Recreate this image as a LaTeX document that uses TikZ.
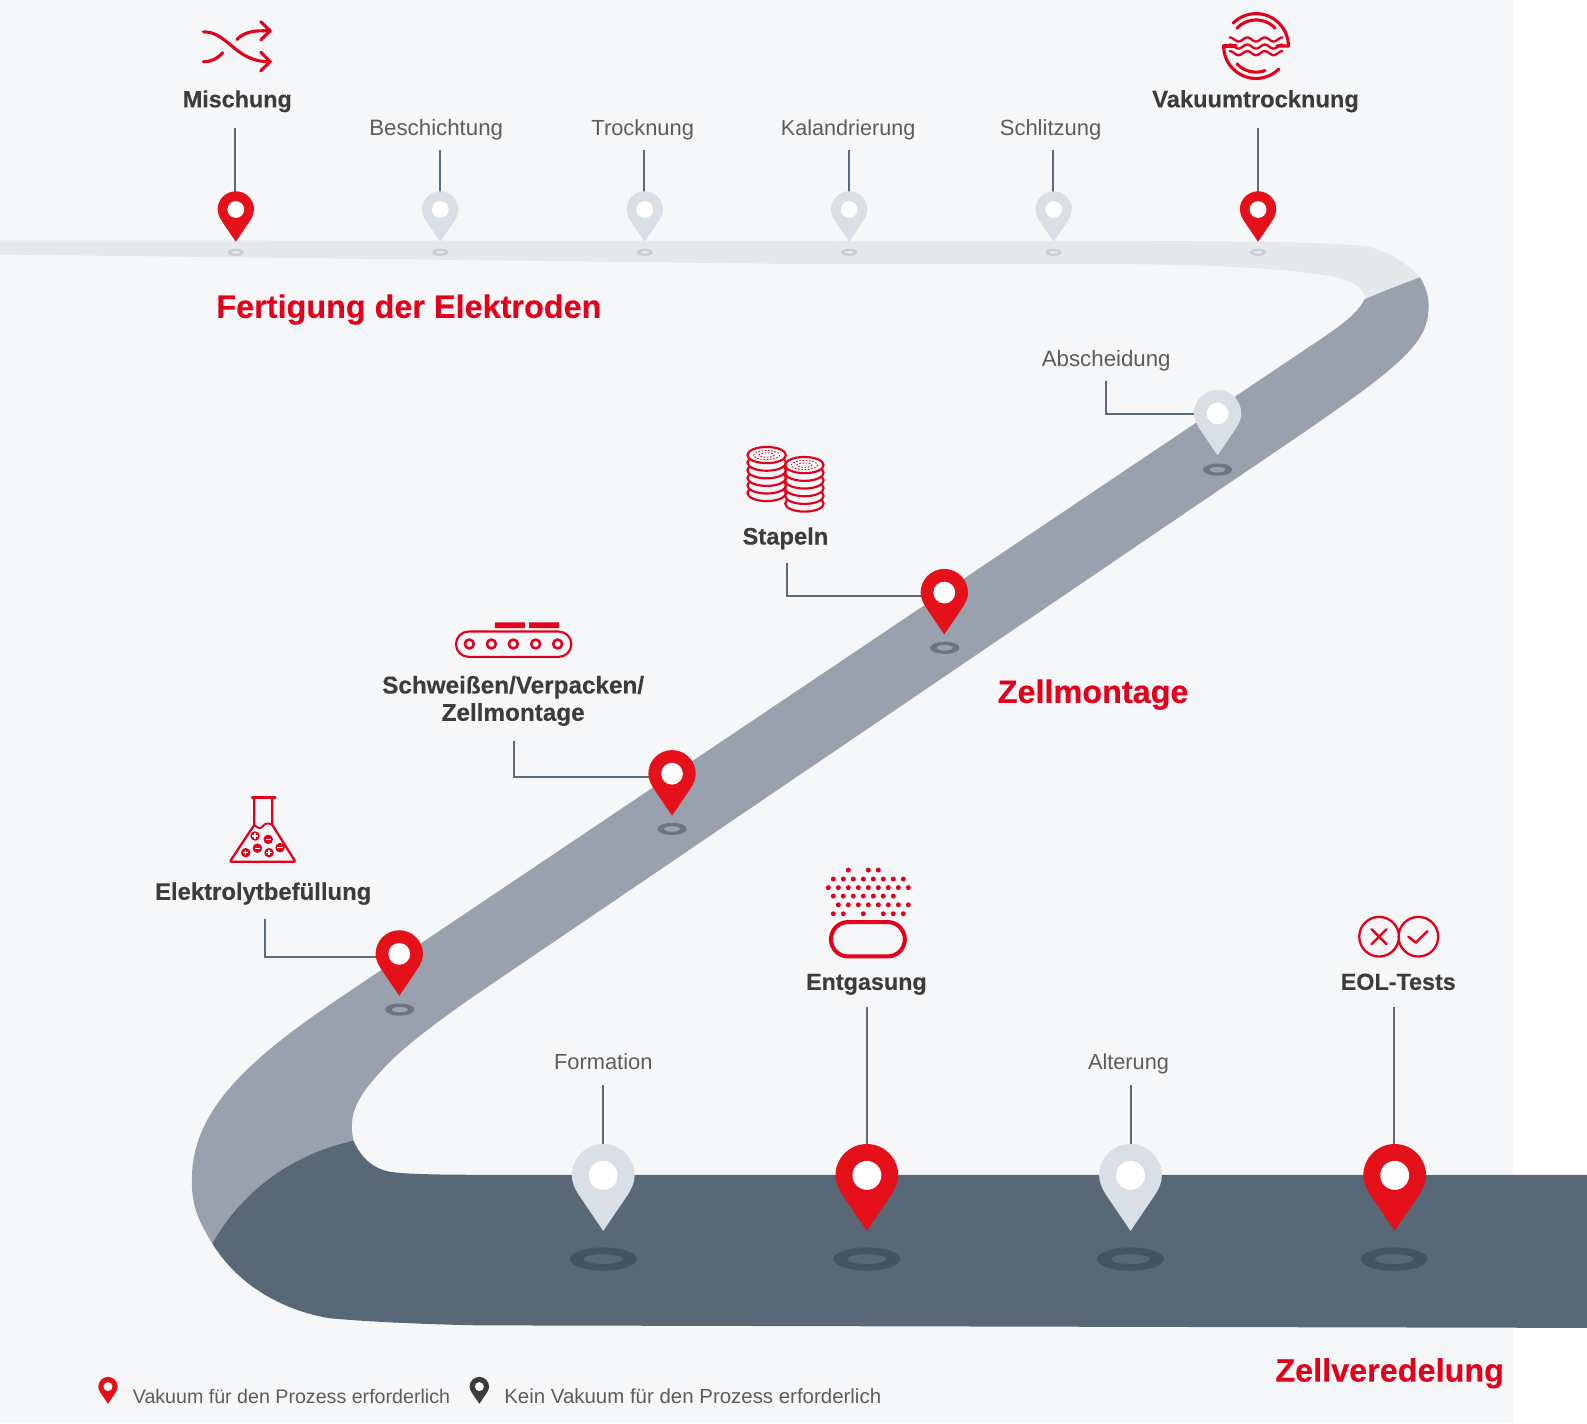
\documentclass[tikz,border=0pt]{standalone}
\usepackage{fontspec}
\setmainfont{Liberation Sans}
\newfontfamily\heavyf{Liberation Sans}[BoldFeatures={FakeBold=0.25}]
\definecolor{bgc}{HTML}{F6F7F9}
\definecolor{roadA}{HTML}{E6E9EC}
\definecolor{roadB}{HTML}{9AA1AE}
\definecolor{roadC}{HTML}{586877}
\definecolor{redp}{HTML}{E4111B}
\definecolor{redt}{HTML}{E2001A}
\definecolor{greyp}{HTML}{DADFE5}
\definecolor{darkt}{HTML}{3C3C3B}
\definecolor{thin}{HTML}{5C5C5C}
\definecolor{leadc}{HTML}{5A6B7B}
\definecolor{ringA}{HTML}{C8CDD2}
\definecolor{ringB}{HTML}{6D747F}
\definecolor{ringC}{HTML}{445360}
\tikzset{
  boldlab/.style={inner sep=0pt,anchor=base,text=darkt,align=center,font=\fontsize{#1}{20.2}\selectfont\heavyf\bfseries},
  boldlab/.default=17.3,
  thinlab/.style={inner sep=0pt,anchor=base,text=thin,font=\fontsize{#1}{20}\selectfont},
  thinlab/.default=16.5,
  headlab/.style={inner sep=0pt,anchor=base,text=redt,font=\fontsize{24}{28}\selectfont\heavyf\bfseries},
  leglab/.style={inner sep=0pt,anchor=base west,text=thin,font=\fontsize{#1}{20}\selectfont},
  leader/.style={draw=leadc,line width=1.5pt},
  icon/.style={draw=redt,line width=2.3pt,line cap=round,line join=round},
  iconthin/.style={draw=redt,line width=1.6pt,line cap=round,line join=round},
}
% name, x, y, radius, colour
\newcommand\mypin[5]{%
  \coordinate (#1) at (#2,#3);
  \begin{scope}[shift={(#2,#3)},scale=#4]
    \fill[#5] (0,1.77) -- (-0.78,0.62) .. controls (-0.93,0.38) and (-1,0.2) .. (-1,0)
      arc (180:360:1) .. controls (1,0.2) and (0.93,0.38) .. (0.78,0.62) -- cycle;
    \fill[white] (0,0) circle (0.46);
  \end{scope}}
% x, y, outer rx, outer ry, inner rx, inner ry, colour
\newcommand\myring[7]{\fill[#7,even odd rule] (#1,#2) ellipse (#3 and #4) (#1,#2) ellipse (#5 and #6);}
\begin{document}
\begin{tikzpicture}[x=0.75pt,y=-0.75pt]
\useasboundingbox (0,0) rectangle (1568,1406);
\fill[white] (0,0) rectangle (1568,1406);
\fill[bgc] (0,0) rectangle (1495,1406);
% roads
\fill[roadA] (0,237.5) -- (1116,238) .. controls (1220,238.5) and (1310,238.8) .. (1347,243)
  .. controls (1370,247) and (1388,258) .. (1403,274)
  .. controls (1385,281) and (1365,288) .. (1348,296)
  .. controls (1350,287) and (1340,279) .. (1320,274)
  .. controls (1280,266) and (1200,261) .. (1100,261) -- (800,261) -- (0,251.5) -- cycle;
\fill[roadB] (1403,274) .. controls (1410,285) and (1413,298) .. (1411,310)
  .. controls (1408,345) and (1370,372) .. (1240,460) -- (462.7,988)
  .. controls (425,1015) and (395,1037) .. (375,1060)
  .. controls (355,1082) and (343,1100) .. (349.3,1127)
  .. controls (290,1140) and (240,1175) .. (209.8,1228.6)
  .. controls (192,1200) and (188,1185) .. (190,1155)
  .. controls (195,1095) and (245,1047) .. (332.6,988) -- (1290,345)
  .. controls (1320,325) and (1340,312) .. (1348,296)
  .. controls (1365,288) and (1385,281) .. (1403,274) -- cycle;
\fill[roadC] (349.3,1127) .. controls (357,1145) and (370,1155) .. (385,1157.7)
  .. controls (400,1160) and (430,1160.7) .. (474,1160.7) -- (1568,1160.7) -- (1568,1312) -- (474,1309.5)
  .. controls (420,1308.5) and (365,1306) .. (326,1302.5)
  .. controls (280,1295) and (235,1270) .. (209.8,1228.6)
  .. controls (240,1175) and (290,1140) .. (349.3,1127) -- cycle;
% rings
\foreach \x in {233,435,637,839,1041,1243}{\myring{\x}{249.3}{8}{3.5}{4.6}{1.6}{ringA}}
\myring{1203}{464}{14.5}{6}{8}{2.8}{ringB}
\myring{933.5}{640}{14.5}{6}{8}{2.8}{ringB}
\myring{664}{819}{14.5}{6}{8}{2.8}{ringB}
\myring{395}{997.5}{14.5}{6}{8}{2.8}{ringB}
\foreach \x in {596,856.5,1117,1377.5}{\myring{\x}{1244}{33}{11.5}{19.5}{5}{ringC}}
% labels
\node[boldlab] (lMisch) at (234.5,106) {Mischung};
\node[thinlab] (lBesch) at (431,134) {Beschichtung};
\node[thinlab=16.2] (lTrock) at (635,134) {Trocknung};
\node[thinlab=16] (lKal) at (838,134) {Kalandrierung};
\node[thinlab=16.3] (lSchl) at (1038,134) {Schlitzung};
\node[boldlab=17.55] (lVak) at (1240.5,106) {Vakuumtrocknung};
\node[thinlab] (lAbs) at (1093,362) {Abscheidung};
\node[boldlab=17.6] (lStap) at (776,538) {Stapeln};
\node[boldlab=18,anchor=center] (lSchw) at (507,692.5) {Schweißen/Verpacken/\\Zellmontage};
\node[boldlab=17.7] (lElek) at (260,889) {Elektrolytbefüllung};
\node[thinlab=16.2] (lForm) at (596,1057) {Formation};
\node[boldlab] (lEnt) at (856,978) {Entgasung};
\node[thinlab=16.1] (lAlt) at (1115,1057) {Alterung};
\node[boldlab] (lEOL) at (1381.5,978) {EOL-Tests};
\node[headlab] (hA) at (404,314) {Fertigung der Elektroden};
\node[headlab] (hB) at (1080,694.5) {Zellmontage};
\node[headlab] (hC) at (1373,1365) {Zellveredelung};
\node[leglab=14.55] (leg1) at (131,1387) {Vakuum für den Prozess erforderlich};
\node[leglab=15.15] (leg2) at (498,1387) {Kein Vakuum für den Prozess erforderlich};
% leader start points
\coordinate (c1) at (232.5,126); \coordinate (c2) at (434.5,148); \coordinate (c3) at (636.5,148);
\coordinate (c4) at (838.5,148); \coordinate (c5) at (1040.5,148); \coordinate (c6) at (1242.5,126);
\coordinate (c7) at (1092.5,376); \coordinate (c8) at (777.5,556); \coordinate (c9) at (508,732);
\coordinate (c10) at (262,908); \coordinate (c11) at (596,1072); \coordinate (c12) at (856.5,995);
\coordinate (c13) at (1117,1072); \coordinate (c14) at (1377.5,995);
\coordinate (e7) at (1203,409); \coordinate (e8) at (933,589); \coordinate (e9) at (664,768); \coordinate (e10) at (394,946);
% pin positions for leaders
\coordinate (p1) at (232.5,207); \coordinate (p2) at (434.5,207); \coordinate (p3) at (636.5,207);
\coordinate (p4) at (838.5,207); \coordinate (p5) at (1040.5,207); \coordinate (p6) at (1242.5,207);
\coordinate (p11) at (596,1161); \coordinate (p12) at (856.5,1161); \coordinate (p13) at (1117,1161); \coordinate (p14) at (1377.5,1161);
\foreach \a/\b in {c1/p1,c2/p2,c3/p3,c4/p4,c5/p5,c6/p6,c11/p11,c12/p12,c13/p13,c14/p14}{\draw[leader] (\a) -- (\b);}
\foreach \a/\b in {c7/e7,c8/e8,c9/e9,c10/e10}{\draw[leader] (\a) |- (\b);}
% pins
\mypin{pinA}{233}{207}{18}{redp}
\mypin{pinB}{435}{207}{18}{greyp}
\mypin{pinC}{637}{207}{18}{greyp}
\mypin{pinD}{839}{207}{18}{greyp}
\mypin{pinE}{1041}{207}{18}{greyp}
\mypin{pinF}{1243}{207}{18}{redp}
\mypin{pinG}{1203}{408.5}{23.4}{greyp}
\mypin{pinH}{933}{585.5}{23.4}{redp}
\mypin{pinI}{664}{764.5}{23.4}{redp}
\mypin{pinJ}{394.5}{942.5}{23.4}{redp}
\mypin{pinK}{596}{1161.3}{31}{greyp}
\mypin{pinL}{856.5}{1161.3}{31}{redp}
\mypin{pinM}{1117}{1161.3}{31}{greyp}
\mypin{pinN}{1378}{1161.3}{31}{redp}
\mypin{pinLegA}{106.7}{1370}{9.6}{redp}
\mypin{pinLegB}{473.6}{1370}{9.6}{darkt}
% icon: shuffle
\draw[icon] (201,31.5) .. controls (225,31) and (232,61) .. (266,61);
\draw[icon] (201,61) .. controls (209,61) and (215,58) .. (220,52);
\draw[icon] (234,39) .. controls (242,31) and (252,30) .. (266,30.5);
\draw[icon] (257.6,21.4) -- (267,30.5) -- (257.6,39.5);
\draw[icon] (257.6,51.5) -- (267,61) -- (257.6,70);
% icon: vacuum
\begin{scope}[shift={(1241,45.5)}]
\draw[icon] (-135:32) arc (-135:0:32) -- (20.5,0);
\draw[icon] (-32,0) -- (-20,0);
\draw[icon] (-32,0) arc (180:45:32);
\draw[icon] (-137:25.8) arc (-137:-43:25.8);
\draw[icon] (137:25.8) arc (137:70:25.8);
\draw[iconthin,line width=1.7pt] plot[domain=-26:26,samples=60] (\x,{-6.5+2*sin(\x*20.8+90)});
\draw[iconthin,line width=1.7pt] plot[domain=-26:26,samples=60] (\x,{0.5+2*sin(\x*20.8+90)});
\draw[iconthin,line width=1.7pt] plot[domain=-26:26,samples=60] (\x,{7+2*sin(\x*20.8+90)});
\end{scope}
% icon: stacks
\foreach \k in {5,4,3,2,1,0}{\draw[iconthin,fill=bgc] (757.5,449.6+\k*7.5) ellipse (19 and 8);}
\draw[redt,line width=0.6pt,dash pattern=on 1.2pt off 1.2pt] (757.5,449.6) ellipse (13 and 4.5) (757.5,449.6) ellipse (7.5 and 2.2);
\foreach \k in {5,4,3,2,1,0}{\draw[iconthin,fill=bgc] (794.8,459.5+\k*7.6) ellipse (19 and 8);}
\draw[redt,line width=0.6pt,dash pattern=on 1.2pt off 1.2pt] (794.8,459.5) ellipse (13 and 4.5) (794.8,459.5) ellipse (7.5 and 2.2);
% icon: conveyor
\draw[iconthin] (463,624) -- (552,624) arc (-90:90:12.5) -- (463,649) arc (90:270:12.5) -- cycle;
\foreach \x in {463.7,485.5,507.2,529.3,551}{\draw[iconthin,line width=1.9pt] (\x,636.3) circle (4.4);}
\fill[redt] (489,615) rectangle (518.7,620.7) (522.7,615) rectangle (552.3,620.7);
% icon: flask
\draw[iconthin,line width=2.6pt] (249.4,788) -- (271.7,788);
\draw[iconthin,line width=1.7pt] (251.3,788) -- (251.3,815) -- (228,850) .. controls (227,851.4) and (228,851.4) .. (230,851.4) -- (289,851.4) .. controls (291,851.4) and (292,851.4) .. (291,850) -- (269,815) -- (269,788);
\draw[iconthin,line width=1.4pt] (251.3,815) .. controls (255,819) and (258,819) .. (260,816) .. controls (262,813) and (266,813) .. (269,815);
\foreach \x/\y in {252/826,242.8/842.5,265.8/842.5}{\fill[redt] (\x,\y) circle (4.7); \draw[white,line width=0.9pt] (\x-2.6,\y) -- (\x+2.6,\y) (\x,\y-2.6) -- (\x,\y+2.6);}
\foreach \x/\y in {265/829.3,254.3/838,276.7/837.5}{\fill[redt] (\x,\y) circle (4.7); \draw[white,line width=0.9pt] (\x-2.6,\y) -- (\x+2.6,\y);}
% icon: degassing
\foreach \r/\yy/\lst in {0/859.6/{2,4,5},1/868.5/{0.5,1.5,2.5,3.5,4.5,5.5,6.5,7.5},2/877/{0,1,2,3,4,5,6,7,8},3/885.4/{0.5,1.5,2.5,3.5,4.5,5.5,6.5},4/894/{1,2,3,4,5,6,7,8},5/902.8/{0.5,1.5,3.5,5.5,6.5,7.5}}{
  \foreach \c in \lst {\fill[redt] ({818.4+\c*9.88},\yy) circle (2.45);}
}
\draw[icon,line width=3pt] (838,911) -- (877,911) arc (-90:90:17) -- (838,945) arc (90:270:17) -- cycle;
% icon: EOL
\draw[iconthin,line width=1.7pt] (1362.6,925.5) circle (19.6) (1401.4,925.5) circle (19.6);
\draw[icon,line width=1.8pt] (1355,918) -- (1370,933) (1370,918) -- (1355,933);
\draw[icon,line width=1.8pt] (1391.5,925.5) -- (1398.8,931.4) -- (1410.3,920);
\end{tikzpicture}
\end{document}
